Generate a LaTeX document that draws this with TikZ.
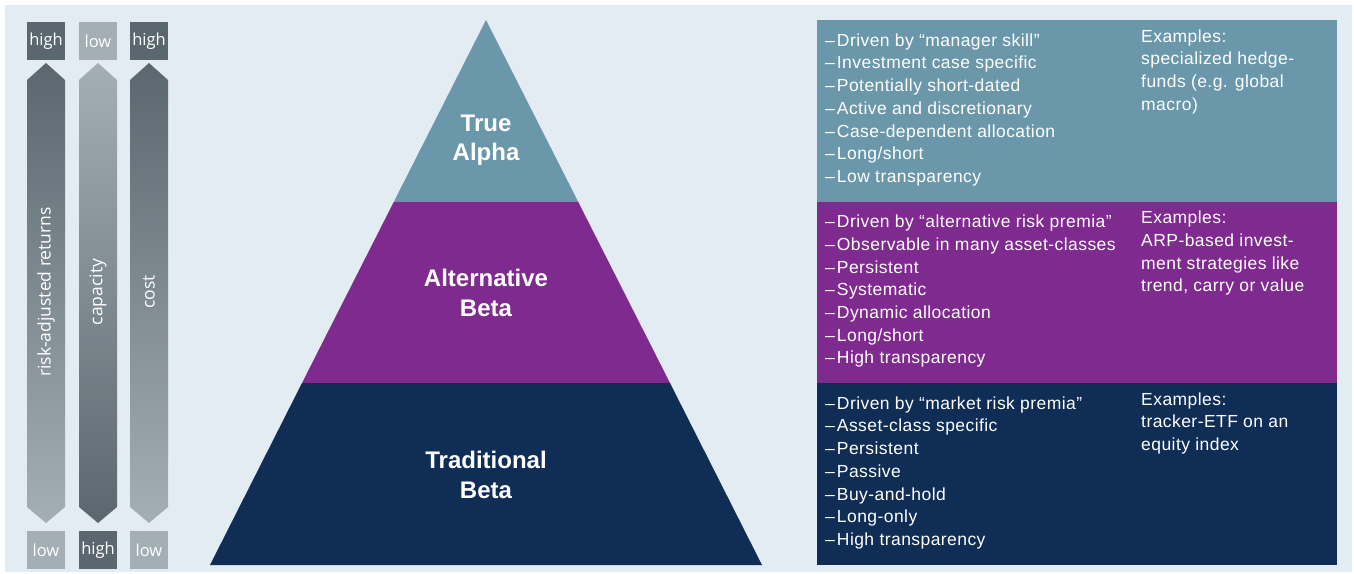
\documentclass[tikz,border=0pt]{standalone}
\usepackage{fontspec}
\setmainfont{Liberation Sans}
\newfontfamily\listfont[LetterSpace=2.5]{Liberation Sans}
\newfontfamily\scalefont{Open Sans}
\usetikzlibrary{positioning}
\definecolor{bgblue}{HTML}{E3ECF2}
\definecolor{alphateal}{HTML}{6A97AA}
\definecolor{altpurple}{HTML}{7F2A8F}
\definecolor{tradnavy}{HTML}{0F2D55}
\definecolor{scaledark}{HTML}{5B676E}
\definecolor{scalelight}{HTML}{A3AEB5}
\tikzset{
  tiertitle/.style={
    text=white,
    font=\fontsize{24}{29.5}\selectfont\bfseries,
    align=center},
  bulletlist/.style={
    text=white,
    font=\listfont\fontsize{17.5}{22.7}\selectfont,
    align=left,
    inner sep=0pt,
    anchor=north west},
  examples/.style={bulletlist},
  scalebox/.style={
    minimum size=38pt,
    inner sep=0pt,
    text=white,
    font=\scalefont\fontsize{16.5}{18}\selectfont},
  scalelabel/.style={
    rotate=90,
    text=white,
    font=\scalefont\fontsize{17.5}{20}\selectfont},
}

\begin{document}
\begin{tikzpicture}[x=1pt,y=-1pt]
  \useasboundingbox (0,0) rectangle (1354,573);
  \fill[bgblue] (5,5) rectangle (1352,572);

  % scales on the left
  \shade[top color=scaledark, bottom color=scalelight]
    (27,80) -- (46,63) -- (65,80) -- (65,507) -- (46,523) -- (27,507) -- cycle;
  \shade[top color=scalelight, bottom color=scaledark]
    (79,80) -- (98,63) -- (117,80) -- (117,507) -- (98,523) -- (79,507) -- cycle;
  \shade[top color=scaledark, bottom color=scalelight]
    (130,80) -- (149,63) -- (168,80) -- (168,507) -- (149,523) -- (130,507) -- cycle;
  \node[scalebox, fill=scaledark] (rethigh) at (46,41) {high};
  \node[scalebox, fill=scalelight] (caplow) at (98,41) {low};
  \node[scalebox, fill=scaledark] (costhigh) at (149,41) {high};
  \node[scalebox, fill=scalelight] (retlow) at (46,550) {low};
  \node[scalebox, fill=scaledark] (caphigh) at (98,550) {high};
  \node[scalebox, fill=scalelight] (costlow) at (149,550) {low};
  \node[scalelabel] (retlabel) at (46,292) {risk-adjusted returns};
  \node[scalelabel] (caplabel) at (98,292) {capacity};
  \node[scalelabel] (costlabel) at (149,292) {cost};

  % pyramid
  \fill[alphateal] (486,20) -- (578,201.5) -- (394,201.5) -- cycle;
  \fill[altpurple] (394,201.5) -- (578,201.5) -- (670,383) -- (302,383) -- cycle;
  \fill[tradnavy] (302,383) -- (670,383) -- (762,565) -- (210,565) -- cycle;
  \node[tiertitle] (alpha) at (486,140) {True\\Alpha};
  \node[tiertitle] (altbeta) at (486,293) {Alternative\\Beta};
  \node[tiertitle] (tradbeta) at (486,475) {Traditional\\Beta};

  % descriptions
  \fill[alphateal] (817,20) rectangle (1337,201.5);
  \fill[altpurple] (817,201.5) rectangle (1337,383);
  \fill[tradnavy] (817,383) rectangle (1337,564.5);

  \node[bulletlist] (alphalist) at (825,33.4) {%
    –\kern2pt Driven by “manager skill”\\
    –\kern2pt Investment case specific\\
    –\kern2pt Potentially short-dated\\
    –\kern2pt Active and discretionary\\
    –\kern2pt Case-dependent allocation\\
    –\kern2pt Long/short\\
    –\kern2pt Low transparency};
  \node[examples] (alphaex) at (1141,29.4) {%
    Examples:\\
    specialized hedge-\\
    funds (e.g. global\\
    macro)};

  \node[bulletlist] (altlist) at (825,214.9) {%
    –\kern2pt Driven by “alternative risk premia”\\
    –\kern2pt Observable in many asset-classes\\
    –\kern2pt Persistent\\
    –\kern2pt Systematic\\
    –\kern2pt Dynamic allocation\\
    –\kern2pt Long/short\\
    –\kern2pt High transparency};
  \node[examples] (altex) at (1141,210.9) {%
    Examples:\\
    ARP-based invest-\\
    ment strategies like\\
    trend, carry or value};

  \node[bulletlist] (tradlist) at (825,396.4) {%
    –\kern2pt Driven by “market risk premia”\\
    –\kern2pt Asset-class specific\\
    –\kern2pt Persistent\\
    –\kern2pt Passive\\
    –\kern2pt Buy-and-hold\\
    –\kern2pt Long-only\\
    –\kern2pt High transparency};
  \node[examples] (tradex) at (1141,392.4) {%
    Examples:\\
    tracker-ETF on an\\
    equity index};
\end{tikzpicture}
\end{document}
